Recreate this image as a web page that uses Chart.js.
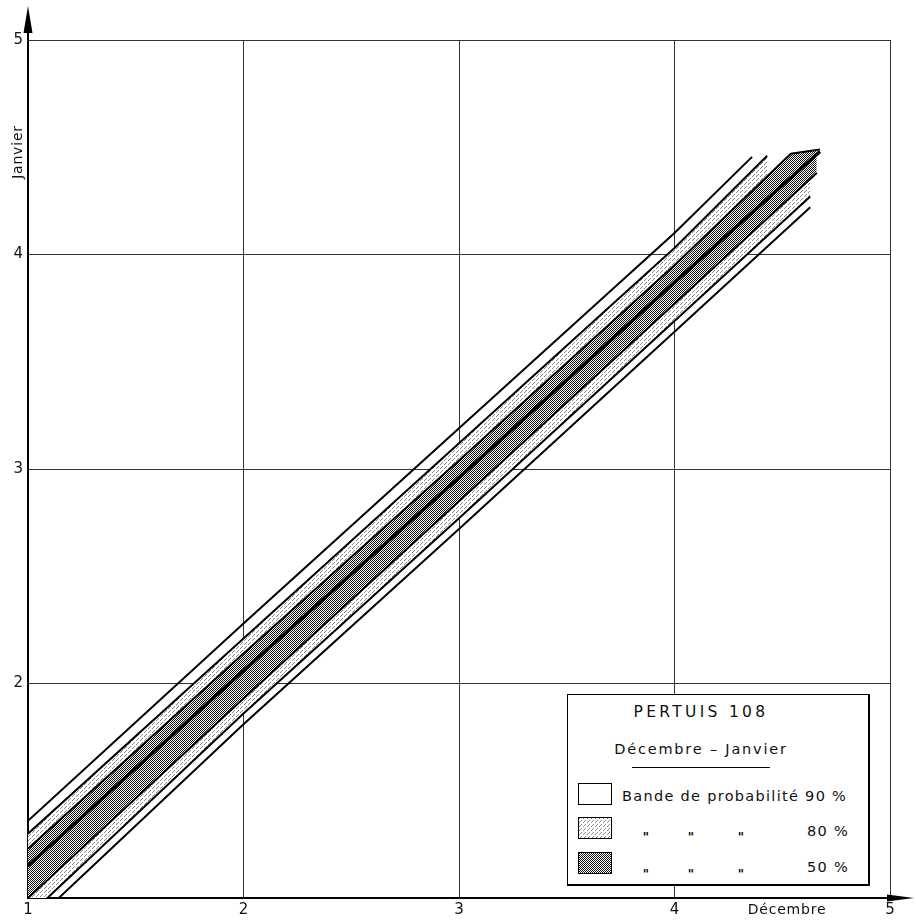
<!DOCTYPE html>
<html>
<head>
<meta charset="utf-8">
<script src="https://cdn.jsdelivr.net/npm/chart.js@4.4.1/dist/chart.umd.min.js"></script>
<style>
  html, body { margin: 0; padding: 0; background: #fff; }
  #wrap { position: relative; width: 916px; height: 920px; }
  #c { position: absolute; left: 0; top: 0; }
  .legend {
    position: absolute; left: 567px; top: 694px; width: 303px; height: 192px;
    box-sizing: border-box; background: #fff;
    border: 1.5px solid #000; border-right-width: 2.5px; border-bottom-width: 2.5px;
    font-family: "DejaVu Sans", sans-serif; color: #111;
  }
  .legend span { position: absolute; white-space: nowrap; transform: translateY(-50%); line-height: 1; }
  .legend .mid { transform: translate(-50%, -50%); }
  .legend .ditto { font-size: 12px; font-weight: bold; color: #000; }
  .sw { position: absolute; left: 10px; width: 34px; height: 22px; box-sizing: border-box; border: 1.5px solid #000; }
  .rule { position: absolute; left: 64px; width: 138px; top: 72px; border-top: 1.5px solid #000; }
</style>
</head>
<body>
<div id="wrap">
  <canvas id="c" width="916" height="920"></canvas>
  <div class="legend">
    <span class="mid" style="left:133px; top:18px; font-size:15.5px; letter-spacing:3.3px;">PERTUIS 108</span>
    <span class="mid" style="left:133px; top:54px; font-size:14.5px; letter-spacing:1.8px;">Décembre – Janvier</span>
    <div class="rule"></div>
    <div class="sw" id="sw90" style="top:88px;"></div>
    <span style="left:54px; top:101px; font-size:14.5px; letter-spacing:1.3px;">Bande de probabilité 90 %</span>
    <div class="sw" id="sw80" style="top:122px;"></div>
    <span class="mid ditto" style="left:78px; top:142px;">"</span>
    <span class="mid ditto" style="left:123px; top:142px;">"</span>
    <span class="mid ditto" style="left:173px; top:142px;">"</span>
    <span style="right:19px; top:136px; font-size:14.5px; letter-spacing:1.3px;">80 %</span>
    <div class="sw" id="sw50" style="top:157px;"></div>
    <span class="mid ditto" style="left:78px; top:179px;">"</span>
    <span class="mid ditto" style="left:123px; top:179px;">"</span>
    <span class="mid ditto" style="left:173px; top:179px;">"</span>
    <span style="right:19px; top:172px; font-size:14.5px; letter-spacing:1.3px;">50 %</span>
  </div>
</div>
<script>
// axis ticks
const xTicks = [1, 2, 3, 4, 5];
const yTicks = [1, 2, 3, 4, 5];

// band lines, [Décembre, Janvier] pairs
const upper90 = [[1, 1.36], [2, 2.28], [3, 3.19], [4, 4.10], [4.36, 4.455]];
const upper80 = [[1, 1.30], [2, 2.21], [3, 3.12], [4, 4.03], [4.43, 4.46]];
const upper50 = [[1, 1.23], [2, 2.14], [3, 3.04], [4, 3.95], [4.54, 4.47], [4.675, 4.49]];
const median = [[1, 1.15], [2, 2.06], [3, 2.96], [4, 3.87], [4.675, 4.48]];
const lower50 = [[1, 1.00], [2, 1.93], [3, 2.85], [4, 3.77], [4.66, 4.38]];
const lower80 = [[1, 0.915], [2, 1.86], [3, 2.77], [4, 3.69], [4.63, 4.27]];
const lower90 = [[1, 0.865], [2, 1.81], [3, 2.72], [4, 3.64], [4.63, 4.22]];

const toPts = (arr) => arr.map(([x, y]) => ({ x, y }));

// stipple tiles
function makeTile(size, dots, ink) {
	const t = document.createElement("canvas");
	t.width = size;
	t.height = size;
	const g = t.getContext("2d");
	g.fillStyle = "#fff";
	g.fillRect(0, 0, size, size);
	g.fillStyle = ink;
	dots.forEach(([x, y]) => g.fillRect(x, y, 1, 1));
	return t;
}
const darkTile = makeTile(2, [[0, 0], [1, 1]], "#111");
const lightTile = makeTile(4, [[0, 0], [2, 2], [1, 3]], "#8a8a8a");

const canvas = document.getElementById("c");
const ctx = canvas.getContext("2d");
const darkFill = ctx.createPattern(darkTile, "repeat");
const lightFill = ctx.createPattern(lightTile, "repeat");

document.getElementById("sw80").style.background = `url(${lightTile.toDataURL()})`;
document.getElementById("sw50").style.background = `url(${darkTile.toDataURL()})`;

const thin = { borderColor: "#000", borderWidth: 2, pointRadius: 0, tension: 0, fill: false };

const axisDecor = {
	id: "axisDecor",
	afterDraw(chart) {
		const { ctx, chartArea: a } = chart;
		ctx.save();
		ctx.strokeStyle = "#000";
		ctx.fillStyle = "#000";
		ctx.lineWidth = 2;
		// y axis runs up to an arrow
		ctx.beginPath();
		ctx.moveTo(a.left, a.top);
		ctx.lineTo(a.left, 22);
		ctx.stroke();
		ctx.beginPath();
		ctx.moveTo(a.left, 6);
		ctx.lineTo(a.left - 4.5, 33);
		ctx.lineTo(a.left + 4.5, 33);
		ctx.closePath();
		ctx.fill();
		// x axis runs right to an arrow
		ctx.beginPath();
		ctx.moveTo(a.right, a.bottom);
		ctx.lineTo(900, a.bottom);
		ctx.stroke();
		ctx.beginPath();
		ctx.moveTo(914, a.bottom);
		ctx.lineTo(887, a.bottom - 3.5);
		ctx.lineTo(887, a.bottom + 3.5);
		ctx.closePath();
		ctx.fill();
		// axis names
		ctx.fillStyle = "#111";
		ctx.font = '14px "DejaVu Sans"';
		ctx.letterSpacing = "0.8px";
		ctx.textAlign = "center";
		ctx.textBaseline = "middle";
		ctx.fillText("Décembre", 787, 910);
		ctx.translate(18, 152);
		ctx.rotate(-Math.PI / 2);
		ctx.fillText("Janvier", 0, 0);
		ctx.restore();
	},
};

new Chart(ctx, {
	type: "line",
	data: {
		datasets: [
			{ ...thin, label: "90 % haut", data: toPts(upper90) },
			{ ...thin, label: "80 % haut", data: toPts(upper80) },
			{ ...thin, label: "50 % haut", data: toPts(upper50), fill: { target: 1 }, backgroundColor: lightFill },
			{ ...thin, label: "médiane", data: toPts(median), borderWidth: 3.5 },
			{ ...thin, label: "50 % bas", data: toPts(lower50), fill: { target: 2 }, backgroundColor: darkFill },
			{ ...thin, label: "80 % bas", data: toPts(lower80), fill: { target: 4 }, backgroundColor: lightFill },
			{ ...thin, label: "90 % bas", data: toPts(lower90) },
		],
	},
	options: {
		responsive: false,
		animation: false,
		layout: { padding: { top: 40, right: 26, left: 0, bottom: 0 } },
		plugins: {
			legend: { display: false },
			tooltip: { enabled: false },
			filler: { drawTime: "beforeDatasetsDraw" },
		},
		scales: {
			x: {
				type: "linear",
				min: xTicks[0],
				max: xTicks[xTicks.length - 1],
				afterBuildTicks: (s) => { s.ticks = xTicks.map((v) => ({ value: v })); },
				afterFit: (s) => { s.height = 22; },
				grid: { color: "#333", lineWidth: 1, drawTicks: false },
				border: { color: "#000", width: 2 },
				ticks: { padding: 3, color: "#111", font: { family: "DejaVu Sans", size: 15 } },
			},
			y: {
				type: "linear",
				min: yTicks[0],
				max: yTicks[yTicks.length - 1],
				afterBuildTicks: (s) => { s.ticks = yTicks.map((v) => ({ value: v })); },
				afterFit: (s) => { s.width = 28; },
				grid: { color: "#333", lineWidth: 1, drawTicks: false },
				border: { color: "#000", width: 2 },
				ticks: {
					padding: 5,
					color: "#111",
					font: { family: "DejaVu Sans", size: 15 },
					callback: (v) => (v === 1 ? "" : v),
				},
			},
		},
	},
	plugins: [axisDecor],
});
</script>
</body>
</html>
